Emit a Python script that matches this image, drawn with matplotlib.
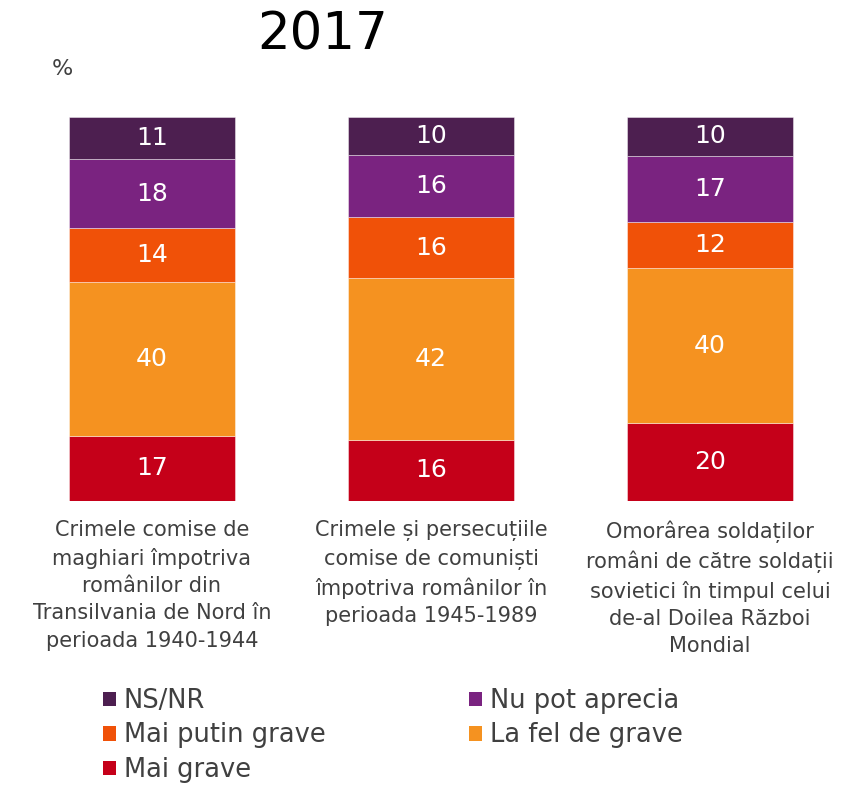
import matplotlib
matplotlib.use("Agg")
import matplotlib.pyplot as plt
import numpy as np

plt.rcParams['font.family'] = ['DejaVu Sans']

categories = [
    "Crimele comise de\nmaghiari împotriva\nromânilor din\nTransilvania de Nord în\nperioada 1940-1944",
    "Crimele și persecuțiile\ncomise de comuniști\nîmpotriva românilor în\nperioada 1945-1989",
    "Omorârea soldaților\nromâni de către soldații\nsovietici în timpul celui\nde-al Doilea Război\nMondial",
]
series_names = ["Mai grave", "La fel de grave", "Mai putin grave", "Nu pot aprecia", "NS/NR"]
mai_grave = [17, 16, 20]
la_fel = [40, 42, 40]
mai_putin = [14, 16, 12]
nu_pot = [18, 16, 17]
ns_nr = [11, 10, 10]
series_values = [mai_grave, la_fel, mai_putin, nu_pot, ns_nr]
colors = ["#c50019", "#f59220", "#f05108", "#7a2380", "#4d1f50"]

# 100% stacked: each bar scaled to its own total
totals = np.sum(np.array(series_values, dtype=float), axis=0)

W, H = 856, 786
fig = plt.figure(figsize=(W / 100, H / 100), dpi=100)
ax = fig.add_axes([12.5 / W, 285 / H, 837 / W, 384 / H])

x = np.arange(len(categories))
bottom = np.zeros(len(categories))
handles = {}
for name, vals, col in zip(series_names, series_values, colors):
    raw = np.array(vals, dtype=float)
    share = raw / totals * 100
    bars = ax.bar(x, share, width=0.595, bottom=bottom, color=col,
                  edgecolor=(1, 1, 1, 0.5), linewidth=0.6, label=name)
    handles[name] = bars
    for xi, b, s, v in zip(x, bottom, share, raw):
        ax.text(xi, b + s / 2, f"{int(v)}", ha="center", va="center",
                color="white", fontsize=18)
    bottom += share

ax.set_xlim(-0.5, 2.5)
ax.set_ylim(0, 100)
ax.set_xticks(x)
ax.set_xticklabels(categories, fontsize=15, color="#404040", linespacing=1.45)
ax.tick_params(axis="x", length=0, pad=14)
ax.set_yticks([])
for s in ax.spines.values():
    s.set_visible(False)

fig.text(323 / W, 1 - 35 / H, "2017", ha="center", va="center", fontsize=37, color="black")
fig.text(62 / W, 1 - 69 / H, "%", ha="center", va="center", fontsize=16, color="#404040")

order = ["NS/NR", "Mai putin grave", "Mai grave", "Nu pot aprecia", "La fel de grave"]
leg = fig.legend([handles[n] for n in order], order, ncol=2, loc="upper left",
                 bbox_to_anchor=(103 / W, 1 - 688 / H), frameon=False,
                 fontsize=18.5, handlelength=0.5, handleheight=0.5,
                 handletextpad=0.3, columnspacing=5.6, labelspacing=0.33,
                 borderpad=0, borderaxespad=0)
for t in leg.get_texts():
    t.set_color("#404040")
for h in leg.legend_handles:
    h.set_edgecolor("none")

fig.savefig("out.png", dpi=100)
